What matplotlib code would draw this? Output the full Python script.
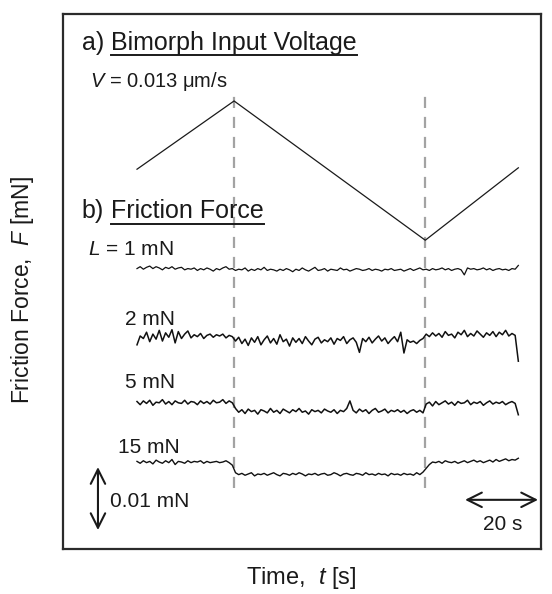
import matplotlib
matplotlib.use('Agg')
import matplotlib.pyplot as plt
import numpy as np
from matplotlib.lines import Line2D

plt.rcParams['font.family'] = ['Liberation Sans', 'DejaVu Sans']
plt.rcParams['mathtext.fontset'] = 'custom'
plt.rcParams['mathtext.rm'] = 'Liberation Sans'
plt.rcParams['mathtext.it'] = 'Liberation Sans:italic'

# bimorph input voltage (triangle), normalised 0..1
volt_t = [0.0, 26.6, 79.0, 104.5]          # s
volt_v = [0.51, 1.0, 0.0, 0.52]

# friction force traces, deviation from trace mean in uN
load_labels = ['$L$ = 1 mN', '2 mN', '5 mN', '15 mN']

f_1mN = [0.2, 0.5, 0.1, 0.4, 0.6, 0.2, 0.5, 0.3, 0.0, 0.4, 0.2, 0.5, 0.1, 0.3, 0.4, 0.0,
         0.2, 0.1, 0.3, -0.1, 0.2, 0.0, 0.3, 0.1, -0.2, 0.2, 0.0, 0.3, 0.5, 0.1, 0.2,
         -0.1, 0.1, 0.0, 0.3, -0.2, 0.1, -0.1, 0.2, 0.0, 0.4, -0.1, 0.1, 0.0, -0.2, 0.1,
         -0.1, 0.2, 0.0, -0.3, 0.1, -0.1, 0.3, 0.0, -0.2, 0.1, 0.4, -0.1, 0.0, 0.2, -0.2,
         0.1, 0.0, -0.1, 0.3, 0.0, 0.1, -0.2, 0.0, 0.2, 0.1, -0.1, 0.0, 0.2, -0.1, 0.1,
         0.0, -0.2, 0.1, 0.0, 0.2, -0.1, 0.0, 0.1, -0.2, 0.0, 0.2, -0.1, 0.1, 0.3, 0.0,
         0.1, -0.1, 0.2, 0.0, 0.1, 0.3, 0.0, 0.2, -0.1, 0.1, 0.2, 0.0, -0.8, 0.3, 0.1,
         0.2, 0.0, 0.1, 0.3, 0.0, 0.2, -0.1, 0.1, 0.2, 0.0, 0.1, -0.1, 0.2, 0.1, 0.7]

f_2mN = [-0.8, 0.6, 0.2, 1.2, -0.3, 0.9, 0.1, 1.5, -0.2, 1.1, 0.4, 1.6, -0.5, 1.3, 0.2,
         0.9, 1.4, 0.3, 0.8, 0.5, 1.0, 0.2, 0.7, 0.9, 0.4, 0.8, 0.6, 0.9, 0.3, 0.7, 0.5,
         -0.2, 0.4, -0.6, 0.1, -0.9, 0.3, -0.4, 0.5, -0.8, 0.0, 0.6, -0.5, 0.2, -0.7, 0.8,
         -0.3, 0.1, -1.0, 0.3, -0.4, 0.2, -0.6, 0.5, -0.2, -0.8, 0.1, 0.4, -0.5, 0.0, -0.3,
         0.3, -0.7, 0.2, -0.1, 0.5, -0.6, 0.0, 0.3, -0.4, -2.0, 0.2, -0.3, 0.4, -0.5, 0.1,
         0.6, -0.2, 0.3, -0.6, 0.0, 0.5, -0.3, 1.2, -2.1, 0.0, -0.4, -0.2, -0.6, -0.1, 0.2,
         0.9, 0.5, 1.1, 0.6, 1.0, 0.4, 1.3, 0.7, 0.9, 0.3, 1.2, 0.8, 1.5, 0.5, 1.0, 0.6,
         1.4, 0.9, 0.4, 1.1, 0.7, 1.3, 0.5, 1.2, 0.8, 1.5, 0.6, 1.0, 0.7, -3.4]

f_5mN = [0.5, 0.0, 0.6, 0.2, 0.7, -0.1, 0.4, 0.3, 0.8, 0.1, 0.5, 0.0, 0.6, 0.3, 0.2, 0.7,
         0.1, 0.5, 0.4, 0.0, 0.6, 0.2, 0.5, 0.1, 0.7, 0.3, 0.4, 0.8, 0.2, 0.6, 0.3,
         -0.6, -1.2, -0.8, -1.4, -0.7, -1.1, -0.9, -1.5, -0.8, -1.0, -1.3, -0.6, -1.2, -0.9,
         -1.4, -0.7, -1.0, -1.3, -0.8, -1.1, -0.6, -1.2, -1.0, -1.5, -0.8, -1.1, -0.9, -1.3,
         -0.7, -1.0, -1.2, -0.8, -1.4, -0.9, -1.1, -0.6, 0.6, -0.9, -1.3, -0.7, -1.1, -0.8,
         -1.4, -0.9, -0.6, -1.2, -1.0, -0.7, -1.3, -0.9, -1.1, -0.8, -1.2, -0.9, -1.4, -1.0,
         -0.8, -1.2, -0.9, -1.3,
         0.1, 0.4, -0.2, 0.5, 0.0, 0.3, 0.6, 0.1, 0.4, -0.1, 0.5, 0.2, 0.3, 0.7, 0.0, 0.4,
         0.2, 0.5, -0.1, 0.3, 0.6, 0.1, 0.4, 0.2, 0.5, 0.0, 0.3, 0.5, 0.2, -1.6]

f_15mN = [0.2, -0.1, 0.3, 0.0, 0.2, -0.2, 0.4, 0.1, -0.1, 0.3, 0.0, 0.5, -0.3, 0.2, 0.1,
          -0.1, 0.3, 0.0, 0.2, 0.1, 0.3, -0.1, 0.2, 0.0, 0.1, 0.2, 0.0, 0.1, 0.3, 0.0, -0.4,
          -1.6, -1.9, -1.7, -2.0, -1.8, -1.6, -2.1, -1.8, -1.9, -1.7, -2.0, -1.8, -1.6, -1.9,
          -2.1, -1.7, -1.8, -2.0, -1.7, -1.9, -1.6, -1.8, -2.1, -1.8, -1.9, -1.7, -2.0, -1.8,
          -1.7, -2.0, -1.9, -1.6, -1.8, -2.1, -1.8, -1.7, -1.9, -2.0, -1.7, -1.8, -2.0, -1.6,
          -1.9, -1.8, -2.0, -1.7, -1.9, -1.8, -2.1, -1.7, -1.9, -1.8, -2.0, -1.7, -1.9, -1.8,
          -2.0, -1.6, -1.9, -1.5,
          -0.9, -0.3, 0.1, 0.0, 0.2, -0.1, 0.3, 0.1, 0.0, 0.2, -0.1, 0.1, 0.3, 0.0, 0.2, 0.4,
          0.1, 0.3, 0.0, 0.2, 0.4, 0.1, 0.5, 0.2, 0.4, 0.6, 0.3, 0.5, 0.4, 0.7]

traces = [f_1mN, f_2mN, f_5mN, f_15mN]

# vertical placement of each trace (in units of 0.01 mN from frame bottom)
offsets = [4.43, 3.32, 2.29, 1.37]
widths = [0.9, 1.1, 1.1, 1.0]
label_pos = [(-13.4, 4.67), (-3.3, 3.56), (-3.3, 2.56), (-5.2, 1.52)]

fig = plt.figure(figsize=(5.52, 5.94), dpi=100)
ax = fig.add_axes([0.114, 0.0758, 0.866, 0.9006])
ax.set_xlim(-20.3, 110.7)
ax.set_ylim(0, 8.49)
ax.set_xticks([])
ax.set_yticks([])
for s in ax.spines.values():
    s.set_linewidth(1.6)
    s.set_color('#2b2b2b')

# triangle voltage
ax.plot(volt_t, np.array(volt_v) * 2.21 + 4.90, color='#1a1a1a', lw=0.9)

# dashed lines at reversal points
for tr in [volt_t[1], volt_t[2]]:
    ax.plot([tr, tr], [0.96, 7.2], color='#a3a3a3', lw=1.6, dashes=(5, 4), zorder=1)

# friction traces
for vals, off, w in zip(traces, offsets, widths):
    t = np.linspace(0, 104.5, len(vals))
    ax.plot(t, off + np.array(vals) / 10.0, color='#111111', lw=w, zorder=3)

for lab, (x, y) in zip(load_labels, label_pos):
    ax.text(x, y, lab, fontsize=15, color='#1a1a1a')

ax.text(-12.9, 7.33, r'$V$ = 0.013 $\mathrm{\mu}$m/s', fontsize=14.5, color='#1a1a1a')


def underlined_title(prefix, title, x, y):
    t1 = ax.text(x, y, prefix, fontsize=18, color='#1a1a1a')
    fig.canvas.draw()
    r = fig.canvas.get_renderer()
    b1 = t1.get_window_extent(r)
    x2, _ = ax.transData.inverted().transform((b1.x1 + 7, 0))
    t2 = ax.text(x2, y, title, fontsize=18, color='#1a1a1a')
    fig.canvas.draw()
    b2 = t2.get_window_extent(r)
    inv = fig.transFigure.inverted()
    p0 = inv.transform((b2.x0, b2.y0 - 0.5))
    p1 = inv.transform((b2.x1, b2.y0 - 0.5))
    fig.add_artist(Line2D([p0[0], p1[0]], [p0[1], p1[1]], color='#1a1a1a', lw=1.4))


underlined_title('a)', 'Bimorph Input Voltage', -15.1, 7.92)
underlined_title('b)', 'Friction Force', -15.1, 5.25)

# scale bars
arrow_style = dict(arrowstyle='<->', lw=1.5, color='#1a1a1a', mutation_scale=26,
                   shrinkA=0, shrinkB=0)
ax.annotate('', xy=(-10.7, 0.30), xytext=(-10.7, 1.30), arrowprops=arrow_style)
ax.text(-7.4, 0.67, '0.01 mN', fontsize=15, color='#1a1a1a')
ax.annotate('', xy=(89.9, 0.78), xytext=(109.9, 0.78), arrowprops=arrow_style)
ax.text(100.3, 0.30, '20 s', fontsize=15, color='#1a1a1a', ha='center')

fig.text(0.040, 0.512, r'Friction Force,  $F$ [mN]', rotation=90, fontsize=16.5,
         ha='center', va='center', color='#1a1a1a')
fig.text(0.545, 0.027, r'Time,  $t$ [s]', fontsize=17, ha='center', va='center',
         color='#1a1a1a')

fig.savefig('out.png', dpi=100)
